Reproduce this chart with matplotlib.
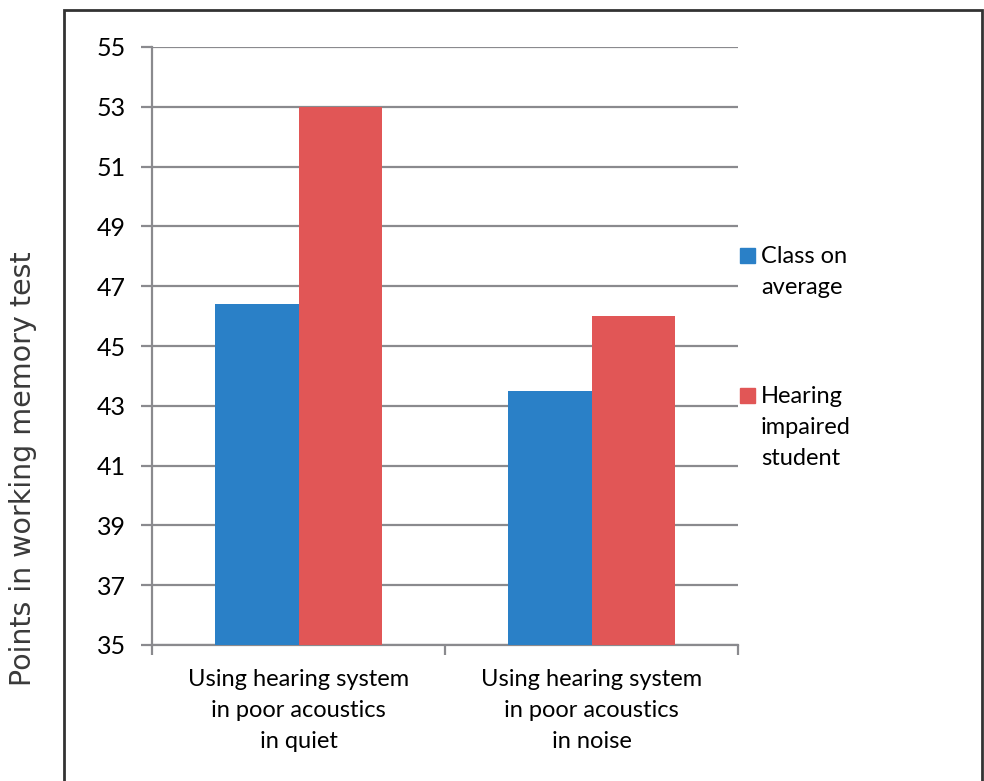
import matplotlib
matplotlib.use("Agg")
import matplotlib.pyplot as plt
from matplotlib.patches import Rectangle
import numpy as np

categories = ["Using hearing system\nin poor acoustics\nin quiet",
              "Using hearing system\nin poor acoustics\nin noise"]
series_names = ["Class on\naverage", "Hearing\nimpaired\nstudent"]
class_avg = [46.4, 43.5]
impaired = [53.0, 46.0]
yticks = [35, 37, 39, 41, 43, 45, 47, 49, 51, 53, 55]
colors = ["#2a80c7", "#e15656"]

W, H = 984, 781
fig = plt.figure(figsize=(W / 100, H / 100), dpi=100)
font = "Lato"

def fx(px):
    return px / W

def fy(py):
    return 1 - py / H

ax = fig.add_axes([fx(152), fy(645), fx(738) - fx(152), fy(47) - fy(645)])

x = np.arange(len(categories))
bw = 0.286
ax.bar(x - bw / 2, class_avg, width=bw, color=colors[0], zorder=3)
ax.bar(x + bw / 2, impaired, width=bw, color=colors[1], zorder=3)

ax.set_ylim(35, 55)
ax.set_xlim(-0.5, len(categories) - 0.5)
ax.set_yticks(yticks)
ax.set_yticklabels([str(t) for t in yticks], fontfamily=font, fontsize=18)
ax.yaxis.grid(True, color="#8a8a8e", linewidth=1.6, zorder=0)
ax.set_axisbelow(True)

ax.set_xticks(np.arange(len(categories) + 1) - 0.5, minor=False)
ax.set_xticklabels([])
ax.set_xticks(x, minor=True)
ax.set_xticklabels(categories, minor=True, fontfamily=font, fontsize=17,
                   linespacing=1.6)
ax.tick_params(axis="x", which="minor", length=0, pad=17)
ax.tick_params(axis="x", which="major", length=7, width=1.6, color="#8a8a8e", direction="out")
ax.tick_params(axis="y", length=8, width=1.6, color="#8a8a8e", direction="out", pad=11)

for s in ["top", "right"]:
    ax.spines[s].set_visible(False)
for s in ["left", "bottom"]:
    ax.spines[s].set_color("#8a8a8e")
    ax.spines[s].set_linewidth(1.6)

fig.text(fx(23), fy(469), "Points in working memory test", rotation=90,
         ha="center", va="center", fontsize=20.5, color="#3a3a3a",
         fontfamily="DejaVu Sans")

# legend (manual)
leg_y = [248, 388]
for i, (name, c) in enumerate(zip(series_names, colors)):
    fig.add_artist(Rectangle((fx(740), fy(leg_y[i] + 15)), fx(15), 15 / H,
                             transform=fig.transFigure, color=c))
    fig.text(fx(761), fy(leg_y[i] - 2), name, ha="left", va="top",
             fontfamily=font, fontsize=17, linespacing=1.6)

# outer border
fig.add_artist(Rectangle((fx(64), fy(800)), fx(982) - fx(64), (800 - 10) / H,
                         transform=fig.transFigure, fill=False,
                         edgecolor="#333333", linewidth=2))

fig.savefig("out.png", dpi=100)
